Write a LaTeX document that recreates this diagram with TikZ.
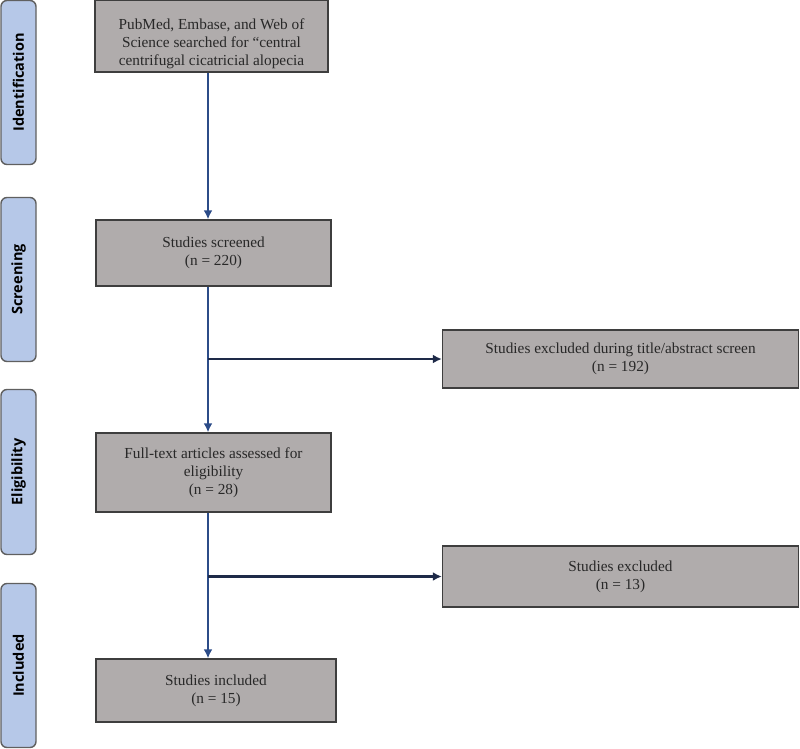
\documentclass[tikz,border=0pt]{standalone}
\usepackage{fontspec}
\setmainfont{Liberation Serif}
\newfontfamily\phasefont{Open Sans}
\usepackage{tikz}
\usetikzlibrary{positioning,shapes,arrows.meta}

\definecolor{boxgray}{RGB}{176,172,172}
\definecolor{boxline}{RGB}{62,62,62}
\definecolor{phaseblue}{RGB}{182,200,232}
\definecolor{phaseline}{RGB}{96,96,96}
\definecolor{flowblue}{RGB}{44,76,136}
\definecolor{flownavy}{RGB}{30,42,72}
\definecolor{textgray}{RGB}{40,40,40}

\tikzset{
  stagebox/.style={rectangle,draw=boxline,fill=boxgray,line width=1.4pt,align=center,
    text=textgray,font=\fontsize{15.3}{18}\selectfont,inner sep=0pt},
  phasebox/.style={rectangle,rounded corners=6pt,draw=phaseline,fill=phaseblue,line width=1.4pt,
    minimum width=35pt,inner sep=0pt},
  phaselabel/.style={rotate=90,font=\phasefont\bfseries\fontsize{14.5}{16}\selectfont,text=black},
  downflow/.style={draw=flowblue,line width=2.8pt,-{Latex[length=9pt,width=9pt]}},
  sideflow/.style={draw=flownavy,line width=2.6pt,-{Latex[length=9pt,width=9pt]}}
}

\begin{document}
\begin{tikzpicture}[x=1pt,y=-1pt]
        \useasboundingbox (0,0) rectangle (800,749);

        % Phase labels on the left
        \node[phasebox,minimum height=164pt] (ident) at (18.5,82.5) {};
        \node[phaselabel] at (ident) {Identification};
        \node[phasebox,minimum height=164pt] (screen) at (18.5,279.5) {};
        \node[phaselabel] at (screen) {Screening};
        \node[phasebox,minimum height=165pt] (elig) at (18.5,472) {};
        \node[phaselabel] at (elig) {Eligibility};
        \node[phasebox,minimum height=164pt] (incl) at (18.5,665.5) {};
        \node[phaselabel] at (incl) {Included};

        % Main stages
        \node[stagebox,minimum width=233pt,minimum height=72pt] (search) at (211.5,36)
            {\rule{0pt}{26pt}PubMed, Embase, and Web of\\Science searched for ``central\\centrifugal cicatricial alopecia};
        \node[stagebox,minimum width=235pt,minimum height=66pt] (screened) at (213.5,253)
            {Studies screened\\(n = 220)};
        \node[stagebox,minimum width=235pt,minimum height=79pt] (fulltext) at (213.5,472.5)
            {Full-text articles assessed for\\eligibility\\(n = 28)};
        \node[stagebox,minimum width=240pt,minimum height=63pt] (included) at (216,690.5)
            {Studies included\\(n = 15)};

        % Exclusions
        \node[stagebox,minimum width=356pt,minimum height=58pt] (excl1) at (620.5,359)
            {Studies excluded during title/abstract screen\\(n = 192)};
        \node[stagebox,minimum width=356pt,minimum height=61pt] (excl2) at (620.5,576.5)
            {Studies excluded\\(n = 13)};

        % Main line
        \coordinate (spine) at (208,0);
        \draw[downflow] (search.south -| spine) -- (screened.north -| spine);
        \draw[downflow] (screened.south -| spine) -- (fulltext.north -| spine);
        \draw[downflow] (fulltext.south -| spine) -- (included.north -| spine);

        % Side branches
        \draw[sideflow] (spine |- excl1.west) -- (excl1.west);
        \draw[sideflow] (spine |- excl2.west) -- (excl2.west);
    \end{tikzpicture}
\end{document}
